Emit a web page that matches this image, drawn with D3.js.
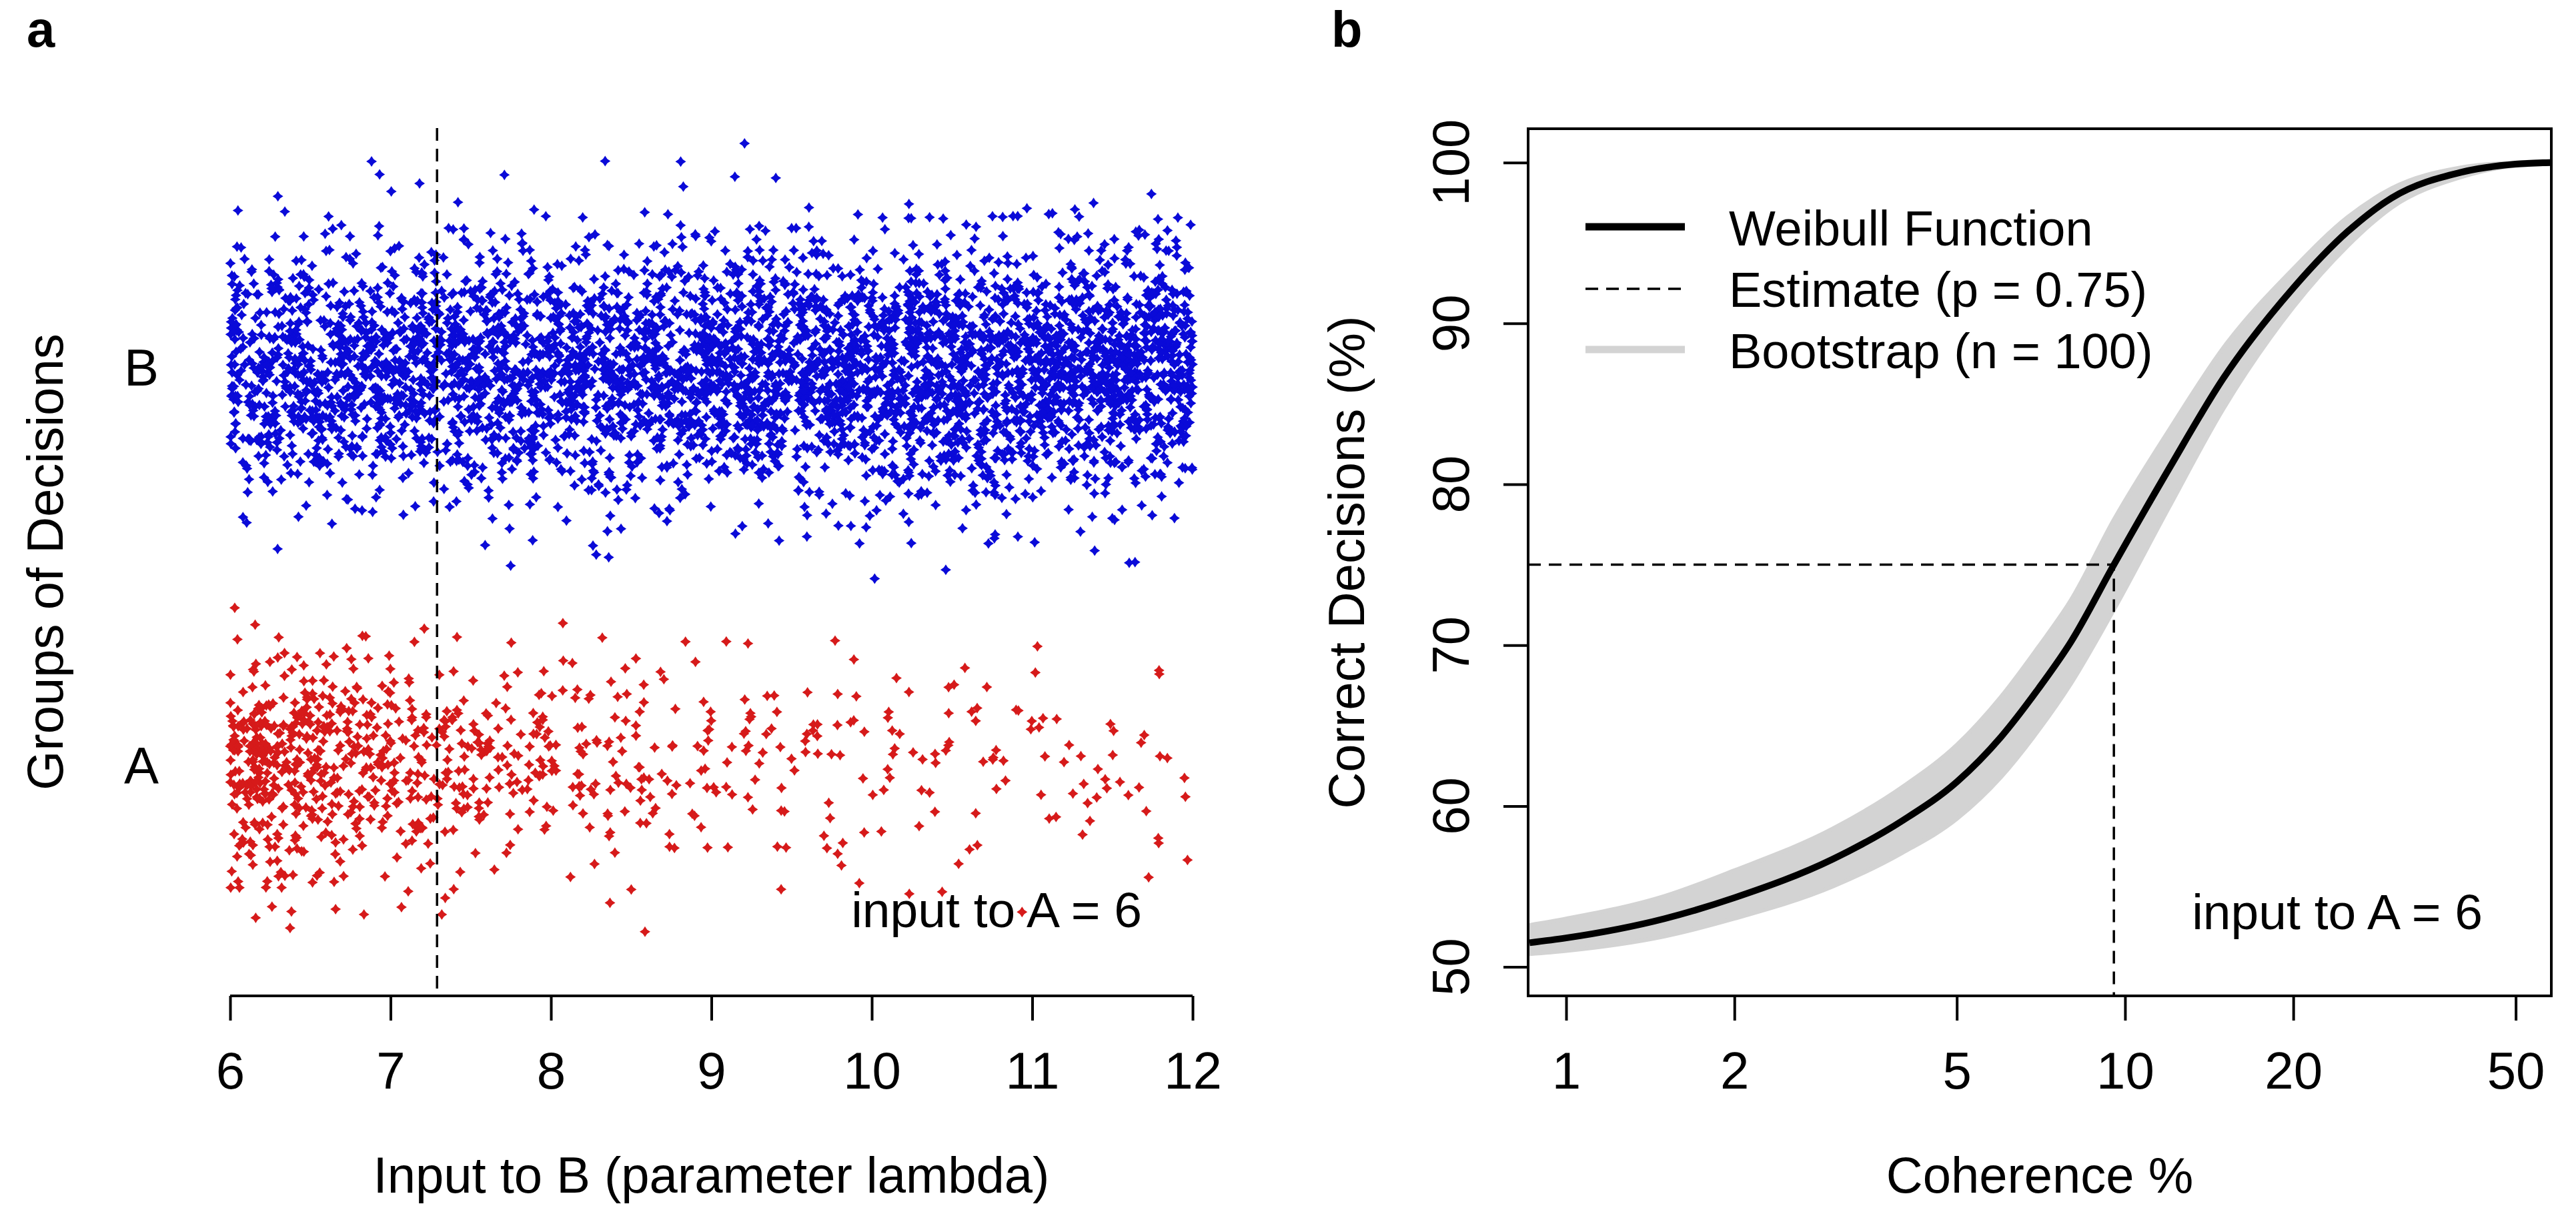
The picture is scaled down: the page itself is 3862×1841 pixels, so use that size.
<!DOCTYPE html>
<html>
<head>
<meta charset="utf-8">
<script src="https://cdn.jsdelivr.net/npm/d3@7"></script>
<style>
  body { margin: 0; background: #fff; }
  svg { display: block; }
  text { font-family: "Liberation Sans", Arial, sans-serif; fill: #000; }
</style>
</head>
<body>
<svg id="chart" width="3862" height="1841"></svg>
<script>

// ---------- panel a : decisions by input to B ----------
// counts of decisions per lambda bin (bin width 0.25)
var binStart = [6.0, 6.25, 6.5, 6.75, 7.0, 7.25, 7.5, 7.75, 8.0, 8.25, 8.5, 8.75,
                9.0, 9.25, 9.5, 9.75, 10.0, 10.25, 10.5, 10.75, 11.0, 11.25, 11.5, 11.75];
var countA = [150, 105, 92, 80, 62, 52, 44, 40, 33, 29, 27, 24,
              18, 17, 15, 15, 14, 14, 11, 11, 11, 11, 9, 9];
var countB = [145, 150, 155, 155, 160, 162, 166, 166, 170, 172, 172, 175,
              182, 185, 190, 190, 193, 196, 196, 198, 200, 200, 205, 208];
var groups = ['A', 'B'];
var lambdaTicks = [6, 7, 8, 9, 10, 11, 12];
var lambdaEstimate = 7.29;

// ---------- panel b : psychometric function ----------
var coherence = [0.86, 1, 1.5, 2, 3, 4, 5, 6, 7, 8, 9.55, 12, 15, 20, 25, 30, 40, 50, 57.9];
var weibull   = [51.5, 51.8, 53.0, 54.3, 56.7, 59.1, 61.5, 64.3, 67.3, 70.2, 75.0, 81.0, 86.6, 92.2, 95.7, 97.8, 99.4, 99.9, 100];
var bootLow   = [50.8, 51.0, 51.9, 53.0, 55.0, 57.1, 59.2, 61.8, 64.7, 67.6, 72.2, 78.6, 84.7, 91.0, 94.8, 97.2, 99.1, 99.8, 99.9];
var bootHigh  = [52.6, 53.0, 54.4, 56.0, 58.6, 61.2, 63.8, 66.8, 69.9, 72.8, 77.8, 83.4, 88.5, 93.4, 96.6, 98.4, 99.7, 100, 100.1];
var coherenceTicks = [1, 2, 5, 10, 20, 50];
var percentTicks = [50, 60, 70, 80, 90, 100];
var threshold = 9.55, thresholdP = 75;
var legendLabels = ['Weibull Function', 'Estimate (p = 0.75)', 'Bootstrap (n = 100)'];

var svg = d3.select('#chart');
var FONT_TICK = 78, FONT_TITLE = 76;

function label(x, y, str, size, anchor, rotate, weight) {
  var t = svg.append('text')
     .attr('x', x).attr('y', y)
     .attr('font-size', size)
     .attr('text-anchor', anchor || 'middle')
     .text(str);
  if (rotate) t.attr('transform', 'rotate(' + rotate + ',' + x + ',' + y + ')');
  if (weight) t.attr('font-weight', weight);
  return t;
}

// ===== panel a =====
var xa = d3.scaleLinear().domain([6, 12]).range([345, 1788]);
var ya = d3.scaleLinear().domain([0.42, 2.6]).range([1493, 192]);

// stripchart jitter (as in the source plot), seeded so the page is stable
var rng = d3.randomLcg(0.137);
var normal = d3.randomNormal.source(rng);
function strip(counts, group, sd) {
  var jit = normal(0, sd), pts = [];
  counts.forEach(function(n, i) {
    for (var k = 0; k < n; k++) pts.push({x: binStart[i] + rng() * 0.25, y: group + jit()});
  });
  return pts;
}
var ptsB = strip(countB, 2, 0.155);
var ptsA = strip(countA, 1, 0.145);

var star = 'M0,-8L3.2,-3.2L8,0L3.2,3.2L0,8L-3.2,3.2L-8,0L-3.2,-3.2Z';

svg.append('g').selectAll('path')
   .data(ptsB).enter().append('path')
   .attr('d', star)
   .attr('transform', function(d) { return 'translate(' + xa(d.x) + ',' + ya(d.y) + ')'; })
   .attr('fill', '#0a0ad8');

svg.append('g').selectAll('path')
   .data(ptsA).enter().append('path')
   .attr('d', star)
   .attr('transform', function(d) { return 'translate(' + xa(d.x) + ',' + ya(d.y) + ')'; })
   .attr('fill', '#d61a1a');

svg.append('line')
   .attr('x1', xa(lambdaEstimate)).attr('x2', xa(lambdaEstimate))
   .attr('y1', ya.range()[1]).attr('y2', ya.range()[0])
   .attr('stroke', '#000').attr('stroke-width', 3.5).attr('stroke-dasharray', '19,12');

var axA = svg.append('g')
   .attr('transform', 'translate(0,1493)')
   .call(d3.axisBottom(xa).tickValues(lambdaTicks).tickSize(37).tickPadding(0).tickFormat(d3.format('d')));
axA.select('.domain').attr('stroke-width', 4).attr('d', 'M' + xa(6) + ',0H' + xa(12));
axA.selectAll('.tick line').attr('stroke-width', 4);
axA.selectAll('.tick text').attr('font-size', FONT_TICK).attr('font-family', null)
   .attr('y', 139).attr('dy', null).attr('fill', '#000');

groups.forEach(function(g, i) {
  label(238, ya(i + 1), g, FONT_TICK, 'end').attr('dy', '0.36em');
});

label(xa(9), 1788, 'Input to B (parameter lambda)', FONT_TITLE);
label(94, (ya.range()[0] + ya.range()[1]) / 2, 'Groups of Decisions', FONT_TITLE, 'middle', -90);
label(1712, 1390, 'input to A = 6', 75, 'end');
label(40, 70, 'a', 76, 'start', 0, 'bold');

// ===== panel b =====
var xb = d3.scaleLog().domain([0.855, 57.9]).range([2291, 3825]);
var yb = d3.scaleLinear().domain([48.2, 102.1]).range([1493, 193]);

svg.append('clipPath').attr('id', 'clipb')
   .append('rect').attr('x', 2291).attr('y', 193).attr('width', 3825 - 2291).attr('height', 1493 - 193);

var plotB = svg.append('g').attr('clip-path', 'url(#clipb)');

var curve = coherence.map(function(c, i) { return {c: c, p: weibull[i], lo: bootLow[i], hi: bootHigh[i]}; });

plotB.append('path')
   .datum(curve)
   .attr('d', d3.area().curve(d3.curveMonotoneX)
      .x(function(d) { return xb(d.c); })
      .y0(function(d) { return yb(d.lo); })
      .y1(function(d) { return yb(d.hi); }))
   .attr('fill', '#d3d3d3').attr('stroke', '#d3d3d3').attr('stroke-width', 6);

plotB.append('path')
   .datum(curve)
   .attr('d', d3.line().curve(d3.curveMonotoneX)
      .x(function(d) { return xb(d.c); })
      .y(function(d) { return yb(d.p); }))
   .attr('fill', 'none').attr('stroke', '#000').attr('stroke-width', 10);

plotB.append('path')
   .attr('d', 'M' + xb.range()[0] + ',' + yb(thresholdP) + 'H' + xb(threshold) + 'V' + yb.range()[0])
   .attr('fill', 'none').attr('stroke', '#000').attr('stroke-width', 3.5).attr('stroke-dasharray', '19,12');

svg.append('rect')
   .attr('x', 2291).attr('y', 193).attr('width', 3825 - 2291).attr('height', 1493 - 193)
   .attr('fill', 'none').attr('stroke', '#000').attr('stroke-width', 4);

var axBx = svg.append('g')
   .attr('transform', 'translate(0,1493)')
   .call(d3.axisBottom(xb).tickValues(coherenceTicks).tickSize(37).tickPadding(0).tickFormat(d3.format('d')));
axBx.select('.domain').remove();
axBx.selectAll('.tick line').attr('stroke-width', 4);
axBx.selectAll('.tick text').attr('font-size', FONT_TICK).attr('font-family', null)
   .attr('y', 139).attr('dy', null).attr('fill', '#000');

var axBy = svg.append('g')
   .attr('transform', 'translate(2291,0)')
   .call(d3.axisLeft(yb).tickValues(percentTicks).tickSize(37).tickFormat(d3.format('d')));
axBy.select('.domain').remove();
axBy.selectAll('.tick line').attr('stroke-width', 4);
axBy.selectAll('.tick text').remove();
percentTicks.forEach(function(v) {
  label(2202, yb(v), String(v), FONT_TICK, 'middle', -90);
});

label(xb(Math.sqrt(0.855 * 57.9)), 1788, 'Coherence %', FONT_TITLE);
label(2045, (193 + 1493) / 2, 'Correct Decisions (%)', FONT_TITLE, 'middle', -90);
label(3722, 1393, 'input to A = 6', 75, 'end');
label(1996, 70, 'b', 76, 'start', 0, 'bold');

// legend
var legLineY = [340, 433, 524];
var legTextY = [368, 460, 552];
var leg = svg.append('g');
leg.append('line').attr('x1', 2377).attr('x2', 2526).attr('y1', legLineY[0]).attr('y2', legLineY[0])
   .attr('stroke', '#000').attr('stroke-width', 11);
leg.append('line').attr('x1', 2377).attr('x2', 2526).attr('y1', legLineY[1]).attr('y2', legLineY[1])
   .attr('stroke', '#000').attr('stroke-width', 3.5).attr('stroke-dasharray', '19,12');
leg.append('line').attr('x1', 2377).attr('x2', 2526).attr('y1', legLineY[2]).attr('y2', legLineY[2])
   .attr('stroke', '#d3d3d3').attr('stroke-width', 11);
legendLabels.forEach(function(s, i) {
  label(2592, legTextY[i], s, 74, 'start');
});

</script>
</body>
</html>
